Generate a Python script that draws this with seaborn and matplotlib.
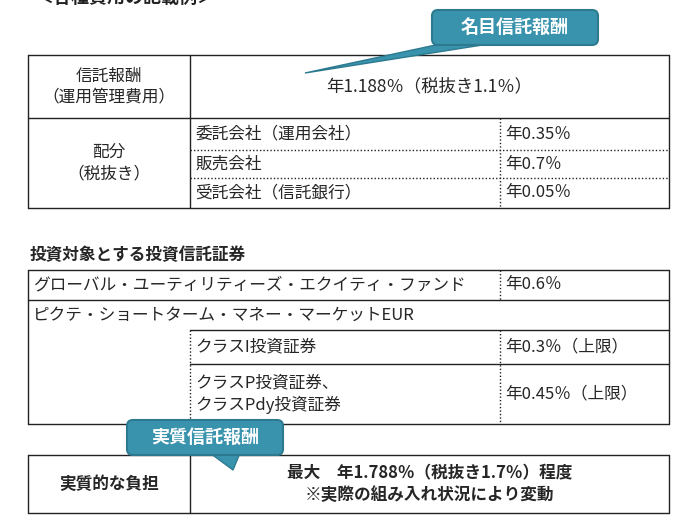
import matplotlib
matplotlib.use("Agg")
import matplotlib.pyplot as plt
import seaborn as sns
from matplotlib.patches import FancyBboxPatch, Polygon

sns.set_theme(style="white")
plt.rcParams['font.family'] = ['Noto Sans CJK JP', 'DejaVu Sans']

# ---- data (texts) ----
fee_label = "信託報酬\n（運用管理費用）"
fee_value = "年1.188％（税抜き1.1％）"
alloc_label = "配分\n（税抜き）"
alloc_names = ["委託会社（運用会社）", "販売会社", "受託会社（信託銀行）"]
alloc_rates = ["年0.35％", "年0.7％", "年0.05％"]
section_title = "投資対象とする投資信託証券"
fund1_name = "グローバル・ユーティリティーズ・エクイティ・ファンド"
fund1_rate = "年0.6％"
fund2_name = "ピクテ・ショートターム・マネー・マーケットEUR"
class_names = ["クラスI投資証券", "クラスP投資証券、\nクラスPdy投資証券"]
class_rates = ["年0.3％（上限）", "年0.45％（上限）"]
real_label = "実質的な負担"
real_value = "最大　年1.788％（税抜き1.7％）程度\n※実際の組み入れ状況により変動"
callouts = ["名目信託報酬", "実質信託報酬"]

fig = plt.figure(figsize=(6.96, 5.22), dpi=100)
ax = fig.add_axes([0, 0, 1, 1])
ax.set_xlim(0, 696)
ax.set_ylim(522, 0)
ax.axis("off")

K = "#222222"
L, C1, C2, R = 28, 190, 500, 669
fs = 12

def hl(y, x0, x1, ls="-"):
    ax.plot([x0, x1], [y, y], color=K, lw=1, ls=ls if ls == "-" else (0, (1, 1.5)))

def vl(x, y0, y1, ls="-"):
    ax.plot([x, x], [y0, y1], color=K, lw=1, ls=ls if ls == "-" else (0, (1, 1.5)))

# header (partly cut off in the reference)
ax.text(35, -3, "＜各種費用の記載例＞", fontsize=13, fontweight="bold", va="center", color=K)

# ---- table 1 ----
T, r1, r2, r3, B = 55, 118, 150, 178, 208
hl(T, L, R); hl(r1, L, R); hl(B, L, R)
hl(r2, C1, R, ":"); hl(r3, C1, R, ":")
vl(L, T, B); vl(R, T, B); vl(C1, T, B); vl(C2, r1, B, ":")
ax.text((L + C1) / 2, (T + r1) / 2, fee_label, ha="center", va="center", fontsize=fs, linespacing=1.3)
ax.text((C1 + R) / 2, (T + r1) / 2, fee_value, ha="center", va="center", fontsize=fs + 0.5)
ax.text((L + C1) / 2, (r1 + B) / 2, alloc_label, ha="center", va="center", fontsize=fs, linespacing=1.3)
for (y0, y1), n, r in zip([(r1, r2), (r2, r3), (r3, B)], alloc_names, alloc_rates):
    ax.text(C1 + 5, (y0 + y1) / 2, n, va="center", fontsize=fs)
    ax.text(C2 + 5, (y0 + y1) / 2, r, va="center", fontsize=fs)

# ---- table 2 ----
ax.text(L + 2, 255, section_title, va="center", fontsize=fs, fontweight="bold")
T2, s1, s2, s3, B2 = 270, 300, 330, 364, 424
hl(T2, L, R); hl(s1, L, R); hl(B2, L, R)
hl(s2, C1, R); hl(s3, C1, R)
vl(L, T2, B2); vl(R, T2, B2)
vl(C2, T2, s1, ":"); vl(C1, s2, B2, ":"); vl(C2, s2, B2, ":")
ax.text(L + 5, (T2 + s1) / 2, fund1_name, va="center", fontsize=fs)
ax.text(C2 + 5, (T2 + s1) / 2, fund1_rate, va="center", fontsize=fs)
ax.text(L + 5, (s1 + s2) / 2, fund2_name, va="center", fontsize=fs)
for (y0, y1), n, r in zip([(s2, s3), (s3, B2)], class_names, class_rates):
    ax.text(C1 + 5, (y0 + y1) / 2, n, va="center", fontsize=fs, linespacing=1.3)
    ax.text(C2 + 5, (y0 + y1) / 2, r, va="center", fontsize=fs)

# ---- table 3 ----
T3, B3 = 455, 513
hl(T3, L, R); hl(B3, L, R); vl(L, T3, B3); vl(R, T3, B3); vl(C1, T3, B3)
ax.text((L + C1) / 2, (T3 + B3) / 2, real_label, ha="center", va="center", fontsize=fs, fontweight="bold")
ax.text((C1 + R) / 2, (T3 + B3) / 2, real_value, ha="center", va="center", fontsize=fs,
        fontweight="bold", linespacing=1.3)

# ---- callouts ----
teal = "#3a93ad"
def callout(x0, y0, w, h, tail, tip, text):
    ax.add_patch(Polygon([tail[0], tail[1], tip], closed=True, fc=teal, ec="#2d7a90", lw=1, zorder=5))
    ax.add_patch(FancyBboxPatch((x0, y0), w, h, boxstyle="round,pad=0,rounding_size=6",
                                fc=teal, ec="#2d7a90", lw=1.5, zorder=6))
    ax.text(x0 + w / 2, y0 + h / 2, text, ha="center", va="center", color="white",
            fontsize=13, fontweight="bold", zorder=7)

callout(432, 10, 166, 35, [(445, 43), (495, 43)], (305, 73), callouts[0])
callout(127, 420, 156, 35, [(210, 453), (240, 453)], (233, 470), callouts[1])

fig.savefig("out.png", dpi=100)
